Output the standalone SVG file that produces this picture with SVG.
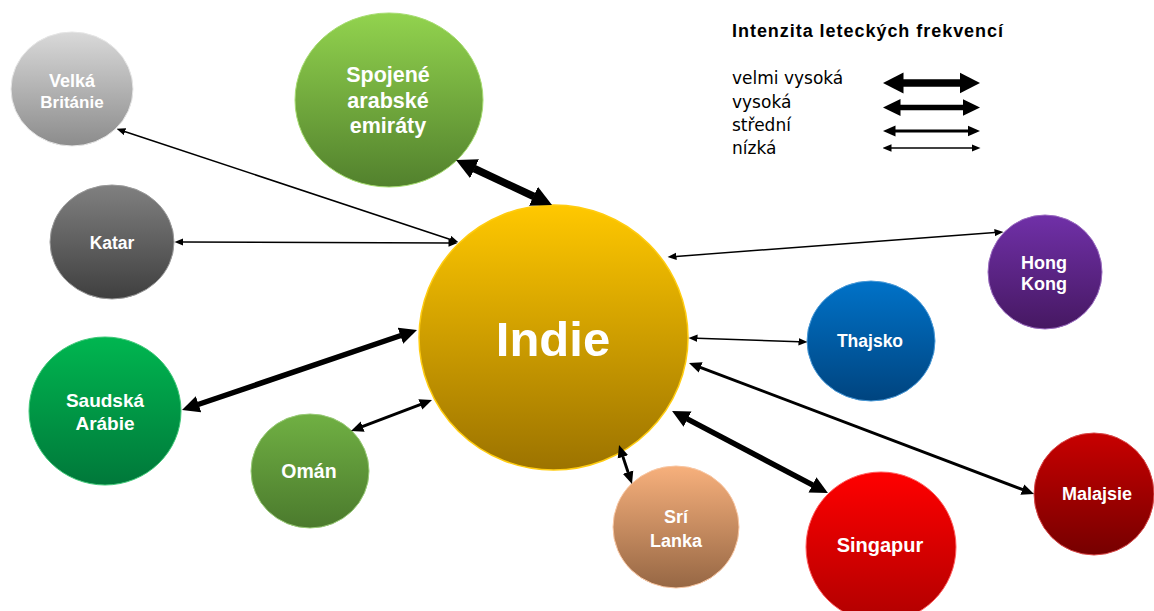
<svg xmlns="http://www.w3.org/2000/svg" width="1154" height="611" viewBox="0 0 1154 611">
  <style>
    .lbl { font-family: "Liberation Sans", Arial, sans-serif; font-weight: bold; fill: #ffffff; text-anchor: middle; }
    .lg { font-family: "DejaVu Sans", "Liberation Sans", sans-serif; font-size: 17px; fill: #000000; }
    .ttl { font-family: "Liberation Sans", Arial, sans-serif; font-weight: bold; font-size: 18px; fill: #000000; }
    .c1 { stroke: #000; stroke-width: 1.5; fill: none; marker-start: url(#h1); marker-end: url(#h1); }
    .c2 { stroke: #000; stroke-width: 3; fill: none; marker-start: url(#h2); marker-end: url(#h2); }
    .c3 { stroke: #000; stroke-width: 5.5; fill: none; marker-start: url(#h3); marker-end: url(#h3); }
    .c4 { stroke: #000; stroke-width: 7.5; fill: none; marker-start: url(#h4); marker-end: url(#h4); }
  </style>
  <defs>
    <!-- arrowheads, one per traffic intensity; the line ends at the head's base -->
    <marker id="h1" markerUnits="userSpaceOnUse" viewBox="0 -4 9 8" refX="0.5" refY="0" markerWidth="9" markerHeight="8" orient="auto-start-reverse">
      <path d="M0,-3.7 L9,0 L0,3.7 Z" fill="#000"/>
    </marker>
    <marker id="h2" markerUnits="userSpaceOnUse" viewBox="0 -6 13 12" refX="0.5" refY="0" markerWidth="13" markerHeight="12" orient="auto-start-reverse">
      <path d="M0,-5.5 L12.5,0 L0,5.5 Z" fill="#000"/>
    </marker>
    <marker id="h3" markerUnits="userSpaceOnUse" viewBox="0 -9 18 18" refX="0.5" refY="0" markerWidth="18" markerHeight="18" orient="auto-start-reverse">
      <path d="M0,-8.5 L17.5,0 L0,8.5 Z" fill="#000"/>
    </marker>
    <marker id="h4" markerUnits="userSpaceOnUse" viewBox="0 -11 21 22" refX="0.5" refY="0" markerWidth="21" markerHeight="22" orient="auto-start-reverse">
      <path d="M0,-10.5 L20.5,0 L0,10.5 Z" fill="#000"/>
    </marker>

    <linearGradient id="gVB" x1="0" y1="0" x2="0" y2="1"><stop offset="0" stop-color="#d9d9d9"/><stop offset="1" stop-color="#8c8c8c"/></linearGradient>
    <linearGradient id="gKA" x1="0" y1="0" x2="0" y2="1"><stop offset="0" stop-color="#808080"/><stop offset="1" stop-color="#3f3f3f"/></linearGradient>
    <linearGradient id="gAE" x1="0" y1="0" x2="0" y2="1"><stop offset="0" stop-color="#92d34e"/><stop offset="1" stop-color="#52812d"/></linearGradient>
    <linearGradient id="gIN" x1="0" y1="0" x2="0" y2="1"><stop offset="0" stop-color="#ffc800"/><stop offset="1" stop-color="#9c7300"/></linearGradient>
    <linearGradient id="gSA" x1="0" y1="0" x2="0" y2="1"><stop offset="0" stop-color="#00b650"/><stop offset="1" stop-color="#00783a"/></linearGradient>
    <linearGradient id="gOM" x1="0" y1="0" x2="0" y2="1"><stop offset="0" stop-color="#70b043"/><stop offset="1" stop-color="#4b7a2d"/></linearGradient>
    <linearGradient id="gSL" x1="0" y1="0" x2="0" y2="1"><stop offset="0" stop-color="#f7b07c"/><stop offset="1" stop-color="#966744"/></linearGradient>
    <linearGradient id="gSG" x1="0" y1="0" x2="0" y2="1"><stop offset="0" stop-color="#ff0000"/><stop offset="1" stop-color="#b00000"/></linearGradient>
    <linearGradient id="gMY" x1="0" y1="0" x2="0" y2="1"><stop offset="0" stop-color="#c80000"/><stop offset="1" stop-color="#760000"/></linearGradient>
    <linearGradient id="gTH" x1="0" y1="0" x2="0" y2="1"><stop offset="0" stop-color="#0072c8"/><stop offset="1" stop-color="#00447f"/></linearGradient>
    <linearGradient id="gHK" x1="0" y1="0" x2="0" y2="1"><stop offset="0" stop-color="#7030a8"/><stop offset="1" stop-color="#461862"/></linearGradient>
  </defs>

  <rect width="1154" height="611" fill="#ffffff"/>

  <!-- countries -->
  <g id="velka-britanie">
    <ellipse cx="72" cy="89" rx="61" ry="57" fill="url(#gVB)" stroke="#e6e6e6" stroke-width="1"/>
    <text class="lbl" x="72" y="87" font-size="18">Velká</text>
    <text class="lbl" x="72" y="108" font-size="17">Británie</text>
  </g>
  <g id="katar">
    <ellipse cx="112" cy="242" rx="62" ry="57" fill="url(#gKA)" stroke="#9a9a9a" stroke-width="1"/>
    <text class="lbl" x="112" y="249" font-size="17.5">Katar</text>
  </g>
  <g id="spojene-arabske-emiraty">
    <ellipse cx="389" cy="100" rx="94" ry="87" fill="url(#gAE)" stroke="#a6dc70" stroke-width="1"/>
    <text class="lbl" x="388" y="82" font-size="21.5">Spojené</text>
    <text class="lbl" x="388" y="108" font-size="21.5">arabské</text>
    <text class="lbl" x="388" y="133" font-size="21.5">emiráty</text>
  </g>
  <g id="saudska-arabie">
    <ellipse cx="105" cy="411" rx="76" ry="74" fill="url(#gSA)" stroke="#40c878" stroke-width="1"/>
    <text class="lbl" x="105" y="407" font-size="19">Saudská</text>
    <text class="lbl" x="105" y="430" font-size="19">Arábie</text>
  </g>
  <g id="oman">
    <ellipse cx="310" cy="471" rx="59" ry="57" fill="url(#gOM)" stroke="#9acb78" stroke-width="1"/>
    <text class="lbl" x="309" y="478" font-size="19.5">Omán</text>
  </g>
  <g id="indie">
    <ellipse cx="553.5" cy="337.5" rx="134.5" ry="132.5" fill="url(#gIN)" stroke="#ffcc10" stroke-width="1.5"/>
    <text class="lbl" x="553" y="356" font-size="49">Indie</text>
  </g>
  <g id="sri-lanka">
    <ellipse cx="676" cy="527" rx="63" ry="61" fill="url(#gSL)" stroke="#f8c6a2" stroke-width="1"/>
    <text class="lbl" x="676" y="523" font-size="18">Srí</text>
    <text class="lbl" x="676" y="547" font-size="18">Lanka</text>
  </g>
  <g id="singapur">
    <ellipse cx="881" cy="547" rx="75" ry="75" fill="url(#gSG)" stroke="#ff6060" stroke-width="1"/>
    <text class="lbl" x="880" y="552" font-size="20">Singapur</text>
  </g>
  <g id="malajsie">
    <ellipse cx="1094" cy="494" rx="60" ry="61" fill="url(#gMY)" stroke="#d84848" stroke-width="1"/>
    <text class="lbl" x="1097" y="500" font-size="18">Malajsie</text>
  </g>
  <g id="thajsko">
    <ellipse cx="871" cy="341" rx="64" ry="60" fill="url(#gTH)" stroke="#4a9ad8" stroke-width="1"/>
    <text class="lbl" x="870" y="347" font-size="17.5">Thajsko</text>
  </g>
  <g id="hong-kong">
    <ellipse cx="1045" cy="272" rx="57" ry="57" fill="url(#gHK)" stroke="#9a6cc0" stroke-width="1"/>
    <text class="lbl" x="1044" y="269" font-size="18">Hong</text>
    <text class="lbl" x="1044" y="290" font-size="18">Kong</text>
  </g>

  <!-- connections to India -->
  <g id="connectors">
    <line class="c1" x1="124.6" y1="131.5" x2="450.4" y2="239.5"/>
    <line class="c1" x1="183" y1="242" x2="449" y2="243"/>
    <line class="c4" x1="474.1" y1="168.5" x2="533.9" y2="196.5"/>
    <line class="c3" x1="198.1" y1="404.5" x2="400.9" y2="335.5"/>
    <line class="c2" x1="362.2" y1="426.7" x2="420.8" y2="404.3"/>
    <line class="c1" x1="676" y1="256.4" x2="995" y2="232.6"/>
    <line class="c1" x1="697" y1="338.3" x2="799" y2="341.7"/>
    <line class="c2" x1="700.2" y1="367.3" x2="1022.8" y2="489.7"/>
    <line class="c3" x1="687.1" y1="418.9" x2="812.9" y2="485.1"/>
    <line class="c2" x1="622.8" y1="456.4" x2="628.2" y2="472.6"/>
  </g>

  <!-- legend -->
  <g id="legend">
    <text class="ttl" x="732" y="37" textLength="271" lengthAdjust="spacing">Intenzita leteckých frekvencí</text>
    <text class="lg" x="732" y="84">velmi vysoká</text>
    <text class="lg" x="732" y="108">vysoká</text>
    <text class="lg" x="732" y="131">střední</text>
    <text class="lg" x="732" y="154">nízká</text>
    <line class="c4" x1="903" y1="83" x2="960" y2="83"/>
    <line class="c3" x1="900" y1="107.5" x2="963" y2="107.5"/>
    <line class="c2" x1="895" y1="131" x2="968" y2="131"/>
    <line class="c1" x1="891" y1="148" x2="972" y2="148"/>
  </g>
</svg>
